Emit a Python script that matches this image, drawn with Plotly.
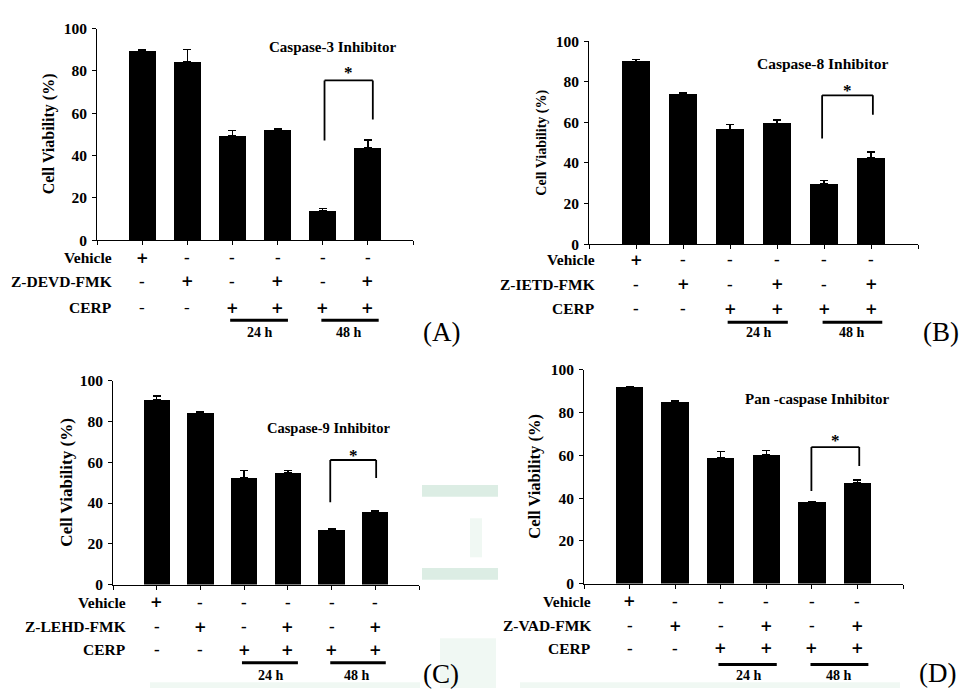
import plotly.graph_objects as go

W, H = 964, 696

# ---- data -------------------------------------------------------------
groups = [0, 1, 2, 3, 4, 5]

vehicle_signs = ["+", "-", "-", "-", "-", "-"]
inhibitor_signs = ["-", "+", "-", "+", "-", "+"]
cerp_signs = ["-", "-", "+", "+", "+", "+"]

viability_a = [89.7, 84.2, 49.4, 52.1, 13.8, 43.6]
error_a = [0.3, 6.0, 2.3, 0.4, 1.1, 3.8]

viability_b = [90.1, 74.0, 56.4, 59.6, 29.6, 42.5]
error_b = [0.8, 0.6, 2.5, 1.6, 1.9, 2.9]

viability_c = [90.6, 84.5, 52.3, 55.0, 27.1, 35.9]
error_c = [1.9, 0.5, 3.8, 1.0, 0.3, 0.6]

viability_d = [91.9, 85.1, 58.8, 60.4, 38.1, 47.3]
error_d = [0.5, 0.5, 3.0, 1.8, 0.3, 1.2]

titles = ["Caspase-3 Inhibitor", "Caspase-8 Inhibitor",
          "Caspase-9 Inhibitor", "Pan -caspase Inhibitor"]
inhibitors = ["Z-DEVD-FMK", "Z-IETD-FMK", "Z-LEHD-FMK", "Z-VAD-FMK"]
panel_tags = ["(A)", "(B)", "(C)", "(D)"]
y_ticks = [0, 20, 40, 60, 80, 100]
time_labels = ["24 h", "48 h"]

# significance bracket heights: left foot, right foot, bar top
bracket_a = [47.1, 57.0, 75.5]
bracket_b = [52.1, 63.7, 73.3]
bracket_c = [40.4, 52.3, 61.1]
bracket_d = [43.3, 55.0, 63.9]

# ---- layout of each panel (pixels) -------------------------------------
panels = [
    dict(vals=viability_a, err=error_a, br=bracket_a,
         x0=97, x1=413, ytop=20, ybot=237, bx=(4.04, 5.11), star_y=79,
         title_xy=(332, 39), title_size=15, ytitle_x=49, ytitle_size=16,
         label_right=114, rows=(255, 279, 306), line_y=319, hl_y=332,
         tag_xy=(441, 331), thin_cerp_minus=True),
    dict(vals=viability_b, err=error_b, br=bracket_b,
         x0=589, x1=918, ytop=33, ybot=241, bx=(3.96, 5.04), star_y=75.5,
         title_xy=(822, 56), title_size=15.5, ytitle_x=542, ytitle_size=14,
         label_right=597, rows=(257, 282, 307), line_y=321, hl_y=332,
         tag_xy=(941, 331), thin_cerp_minus=False),
    dict(vals=viability_c, err=error_c, br=bracket_c,
         x0=113, x1=419, ytop=381, ybot=590, bx=(3.97, 5.02), star_y=63.5,
         title_xy=(328, 430), title_size=14.5, ytitle_x=67, ytitle_size=17,
         label_right=128, rows=(608, 633, 657), line_y=670, hl_y=683,
         tag_xy=(441, 682), thin_cerp_minus=False),
    dict(vals=viability_d, err=error_d, br=bracket_d,
         x0=584, x1=903, ytop=370, ybot=589, bx=(3.99, 5.04), star_y=67,
         title_xy=(817, 400), title_size=15, ytitle_x=535, ytitle_size=16.5,
         label_right=593, rows=(607, 632, 655), line_y=672, hl_y=683,
         tag_xy=(937, 681), thin_cerp_minus=False),
]

SERIF = "Liberation Serif"
SIGN_FONT = "DejaVu Serif"


def px(x):
    return x / W


def py(y):
    return 1 - y / H


fig = go.Figure()
annotations = []
shapes = []

# faint green watermark behind the panels
wm = "rgba(140,196,164,0.30)"
wm_light = "rgba(160,210,180,0.16)"
for (xa, ya, xb, yb, col) in [
    (422, 488, 498, 500, wm), (422, 573, 498, 585, wm),
    (470, 522, 482, 562, wm_light), (440, 645, 496, 696, wm_light),
    (150, 690, 420, 696, wm_light), (520, 690, 900, 696, wm_light),
]:
    shapes.append(dict(type="rect", xref="paper", yref="paper",
                       x0=px(xa), x1=px(xb), y0=py(yb), y1=py(ya),
                       fillcolor=col, line=dict(width=0), layer="below"))

for k, p in enumerate(panels):
    n = k + 1
    xa = "x" if n == 1 else f"x{n}"
    ya = "y" if n == 1 else f"y{n}"
    fig.add_trace(go.Bar(
        x=groups, y=p["vals"], width=0.6, xaxis=xa, yaxis=ya,
        marker=dict(color="black", line=dict(width=0)),
        error_y=dict(type="data", array=p["err"], symmetric=False,
                     arrayminus=[0] * 6, color="black", thickness=1.3,
                     width=4),
        showlegend=False, hoverinfo="skip"))

    axis_common = dict(showgrid=False, zeroline=False, showline=True,
                       linecolor="black", linewidth=1, ticks="outside",
                       ticklen=4, tickcolor="black", tickwidth=1)
    fig.update_layout(**{
        ("xaxis" if n == 1 else f"xaxis{n}"): dict(
            axis_common, domain=[px(p["x0"]), px(p["x1"])], range=[-1, 6],
            anchor=ya, tickvals=[-1, 0, 1, 2, 3, 4, 5, 6], showticklabels=False),
        ("yaxis" if n == 1 else f"yaxis{n}"): dict(
            axis_common, domain=[py(p["ybot"]), py(p["ytop"])], range=[0, 100],
            anchor=xa, tickvals=y_ticks, ticklabelstandoff=2,
            tickfont=dict(family=SERIF, size=15.5, color="black", weight="bold")),
    })

    # panel title
    annotations.append(dict(
        text=titles[k], xref="paper", yref="paper",
        x=px(p["title_xy"][0]), y=py(p["title_xy"][1]),
        xanchor="center", yanchor="middle", showarrow=False,
        font=dict(family=SERIF, size=p["title_size"], color="black", weight="bold")))

    # y-axis title
    yc = (p["ytop"] + p["ybot"]) / 2
    annotations.append(dict(
        text="Cell Viability (%)", xref="paper", yref="paper",
        x=px(p["ytitle_x"]), y=py(yc), textangle=-90,
        xanchor="center", yanchor="middle", showarrow=False,
        font=dict(family=SERIF, size=p["ytitle_size"], color="black", weight="bold")))

    # treatment table under the bars
    row_names = ["Vehicle", inhibitors[k], "CERP"]
    row_signs = [vehicle_signs, inhibitor_signs, cerp_signs]
    for r in range(3):
        annotations.append(dict(
            text=row_names[r], xref="paper", yref="paper",
            x=px(p["label_right"]), y=py(p["rows"][r]),
            xanchor="right", yanchor="middle", showarrow=False,
            font=dict(family=SERIF, size=15.5, color="black", weight="bold")))
        for i, s in zip(groups, row_signs[r]):
            thin = p["thin_cerp_minus"] and r == 2 and s == "-"
            if s == "+":
                sign_font = dict(family=SIGN_FONT, size=15, color="black", weight="bold")
            else:
                sign_font = dict(family=SERIF, size=17, color="black",
                                 weight="normal" if thin else "bold")
            annotations.append(dict(
                text=s, xref=xa, yref="paper", x=i, y=py(p["rows"][r]),
                xanchor="center", yanchor="middle", showarrow=False,
                font=sign_font))

    # time-point underlines and labels
    for (lx0, lx1), lab, lc in zip([(1.95, 3.23), (3.97, 5.24)], time_labels, [2.62, 4.59]):
        shapes.append(dict(type="line", xref=xa, yref="paper",
                           x0=lx0, x1=lx1, y0=py(p["line_y"]), y1=py(p["line_y"]),
                           line=dict(color="black", width=3)))
        annotations.append(dict(
            text=lab, xref=xa, yref="paper", x=lc, y=py(p["hl_y"]),
            xanchor="center", yanchor="middle", showarrow=False,
            font=dict(family=SERIF, size=14, color="black", weight="bold")))

    # significance bracket
    bl, brr, bt = p["br"]
    bx0, bx1 = p["bx"]
    for (sx0, sy0, sx1, sy1) in [(bx0, bl, bx0, bt), (bx0, bt, bx1, bt), (bx1, bt, bx1, brr)]:
        shapes.append(dict(type="line", xref=xa, yref=ya,
                           x0=sx0, y0=sy0, x1=sx1, y1=sy1,
                           line=dict(color="black", width=1.8)))
    annotations.append(dict(
        text="*", xref=xa, yref=ya, x=(bx0 + bx1) / 2, y=p["star_y"],
        xanchor="center", yanchor="middle", showarrow=False,
        font=dict(family=SERIF, size=17, color="black", weight="bold")))

    # panel tag
    annotations.append(dict(
        text=panel_tags[k], xref="paper", yref="paper",
        x=px(p["tag_xy"][0]), y=py(p["tag_xy"][1]),
        xanchor="center", yanchor="middle", showarrow=False,
        font=dict(family=SERIF, size=27, color="black")))

fig.update_layout(
    width=W, height=H, margin=dict(l=0, r=0, t=0, b=0),
    paper_bgcolor="white", plot_bgcolor="rgba(0,0,0,0)",
    bargap=0, annotations=annotations, shapes=shapes,
)

fig.write_html("out.html")
